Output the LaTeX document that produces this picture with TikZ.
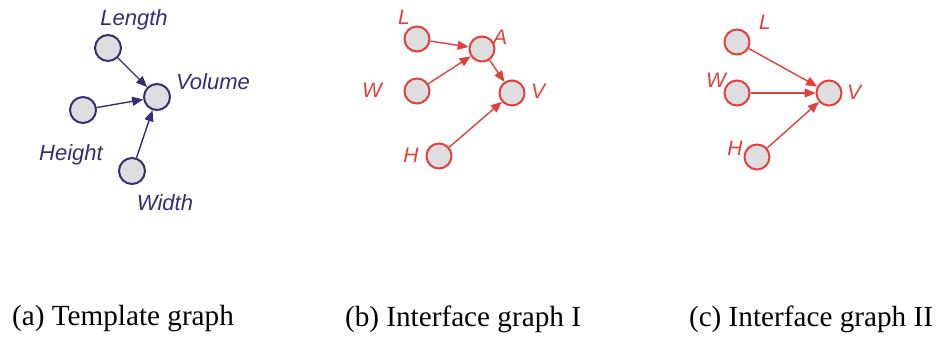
\documentclass[tikz,border=0pt]{standalone}
\usepackage{fontspec}
\setmainfont{Liberation Serif}
\setsansfont{Liberation Sans}
\usetikzlibrary{arrows.meta}
\definecolor{colTemplate}{RGB}{55,45,115}
\definecolor{colIface}{RGB}{225,65,60}
\definecolor{colFill}{RGB}{222,222,224}
\tikzset{
  var/.style={
    circle, draw, fill=colFill, line width=1pt,
    minimum size=12.5pt, inner sep=0pt
  },
  tvar/.style={var, draw=colTemplate, minimum size=13pt},
  ivar/.style={var, draw=colIface},
  tname/.style={
    font=\sffamily\itshape\fontsize{11}{13}\selectfont, text=colTemplate
  },
  iname/.style={
    font=\sffamily\itshape\fontsize{10.5}{12}\selectfont, text=colIface
  },
  tarr/.style={
    -{Triangle[length=5.5pt,width=4.5pt]}, line width=0.7pt, color=colTemplate
  },
  iarr/.style={
    -{Triangle[length=5.5pt,width=4.5pt]}, line width=0.7pt, color=colIface
  },
  caption/.style={
    font=\fontsize{14.6}{16}\selectfont
  }
}

\begin{document}
\begin{tikzpicture}[x=0.5pt, y=-0.5pt]
  \useasboundingbox (0,0) rectangle (940,337);

  % (a) template graph
  \node[tvar] (len) at (108,48) {};
  \node[tvar] (vol) at (157,97) {};
  \node[tvar] (hgt) at (83,110) {};
  \node[tvar] (wid) at (132,171) {};
  \node[tname] (lenT) at (134,20) {Length};
  \node[tname] (volT) at (213,82) {Volume};
  \node[tname] (hgtT) at (71,155) {Height};
  \node[tname] (widT) at (165,203) {Width};
  \draw[tarr] (len) -- (vol);
  \draw[tarr] (hgt) -- (vol);
  \draw[tarr] (wid) -- (vol);

  % (b) interface graph I
  \node[ivar] (bL) at (417,39) {};
  \node[ivar] (bA) at (482,49) {};
  \node[ivar] (bW) at (417,91) {};
  \node[ivar] (bV) at (512,93) {};
  \node[ivar] (bH) at (439,156) {};
  \node[iname] (bLT) at (404,17) {L};
  \node[iname] (bAT) at (500,37) {A};
  \node[iname] (bWT) at (372,90) {W};
  \node[iname] (bVT) at (538,91) {V};
  \node[iname] (bHT) at (411,155) {H};
  \draw[iarr] (bL) -- (bA);
  \draw[iarr] (bW) -- (bA);
  \draw[iarr] (bA) -- (bV);
  \draw[iarr] (bH) -- (bV);

  % (c) interface graph II
  \node[ivar] (cL) at (737,42) {};
  \node[ivar] (cW) at (737,93) {};
  \node[ivar] (cH) at (757,157) {};
  \node[ivar] (cV) at (829,93) {};
  \node[iname] (cLT) at (765,22) {L};
  \node[iname] (cWT) at (716,80) {W};
  \node[iname] (cHT) at (735,148) {H};
  \node[iname] (cVT) at (854,92) {V};
  \draw[iarr] (cL) -- (cV);
  \draw[iarr] (cW) -- (cV);
  \draw[iarr] (cH) -- (cV);

  % captions
  \node[caption] (capA) at (123,319) {(a) Template graph};
  \node[caption] (capB) at (463,319) {(b) Interface graph I};
  \node[caption] (capC) at (811,319) {(c) Interface graph II};
\end{tikzpicture}
\end{document}
